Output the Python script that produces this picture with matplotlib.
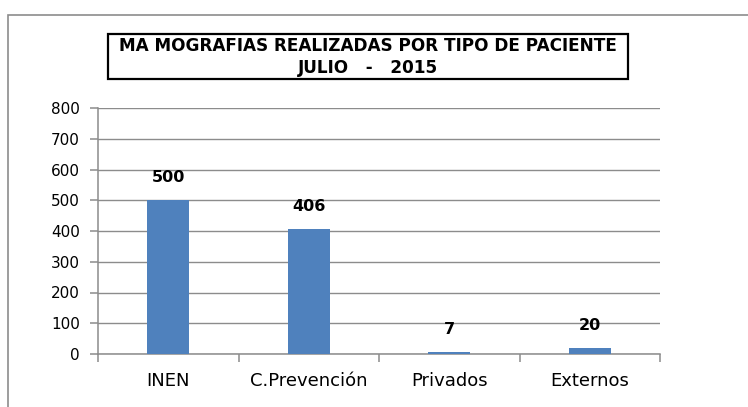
import matplotlib

matplotlib.use("Agg")
import matplotlib.pyplot as plt
from matplotlib.patches import Rectangle

plt.rcParams["font.family"] = ["DejaVu Sans"]

# chart data
categories = ["INEN", "C.Prevención", "Privados", "Externos"]
values = [500, 406, 7, 20]
y_ticks = [0, 100, 200, 300, 400, 500, 600, 700, 800]
title_lines = ["MA MOGRAFIAS REALIZADAS POR TIPO DE PACIENTE", "JULIO   -   2015"]

BAR_COLOR = "#4F81BD"
GRID_COLOR = "#8C8C8C"
W, H = 748, 407

fig = plt.figure(figsize=(W / 100, H / 100), dpi=100)

# outer chart frame (only left/top edges visible in the crop)
fig.patches.append(Rectangle((8 / W, -0.1), 1.2, 1 - 15 / H + 0.1,
                             transform=fig.transFigure, fill=False,
                             edgecolor=GRID_COLOR, linewidth=1.2))

ax = fig.add_axes([98 / W, 1 - 354 / H, (660 - 98) / W, (354 - 108) / H])

x = list(range(len(categories)))
bars = ax.bar(x, values, width=0.3, color=BAR_COLOR, zorder=3)
for rect, v in zip(bars, values):
    ax.annotate(str(v), (rect.get_x() + rect.get_width() / 2, v),
                xytext=(0, 11), textcoords="offset points",
                ha="center", va="bottom", fontsize=11.5, fontweight="bold")

ax.set_xlim(-0.5, len(categories) - 0.5)
ax.set_ylim(0, 800)
ax.set_yticks(y_ticks)
ax.yaxis.grid(True, color=GRID_COLOR, linewidth=1.0, zorder=0)
ax.set_axisbelow(True)

# category labels centred, tick marks between categories
ax.set_xticks([i - 0.5 for i in range(len(categories) + 1)])
ax.set_xticklabels([])
ax.set_xticks(x, minor=True)
ax.set_xticklabels(categories, minor=True, fontsize=13)
ax.tick_params(axis="x", which="minor", length=0, pad=13)
ax.tick_params(axis="x", which="major", length=6, color=GRID_COLOR, width=1.1)
ax.tick_params(axis="y", length=6, color=GRID_COLOR, width=1.1, labelsize=11, pad=7)

for side in ("top", "right"):
    ax.spines[side].set_visible(False)
for side in ("left", "bottom"):
    ax.spines[side].set_color(GRID_COLOR)
    ax.spines[side].set_linewidth(1.1)

# boxed title
fig.patches.append(Rectangle((108 / W, 1 - 79 / H), (628 - 108) / W, 45 / H,
                             transform=fig.transFigure, fill=False,
                             edgecolor="black", linewidth=1.6))
fig.text(368 / W, 1 - 46 / H, title_lines[0], ha="center", va="center",
         fontsize=12.2, fontweight="heavy")
fig.text(368 / W, 1 - 68 / H, title_lines[1], ha="center", va="center",
         fontsize=12.2, fontweight="heavy")

fig.savefig("out.png", dpi=100)
